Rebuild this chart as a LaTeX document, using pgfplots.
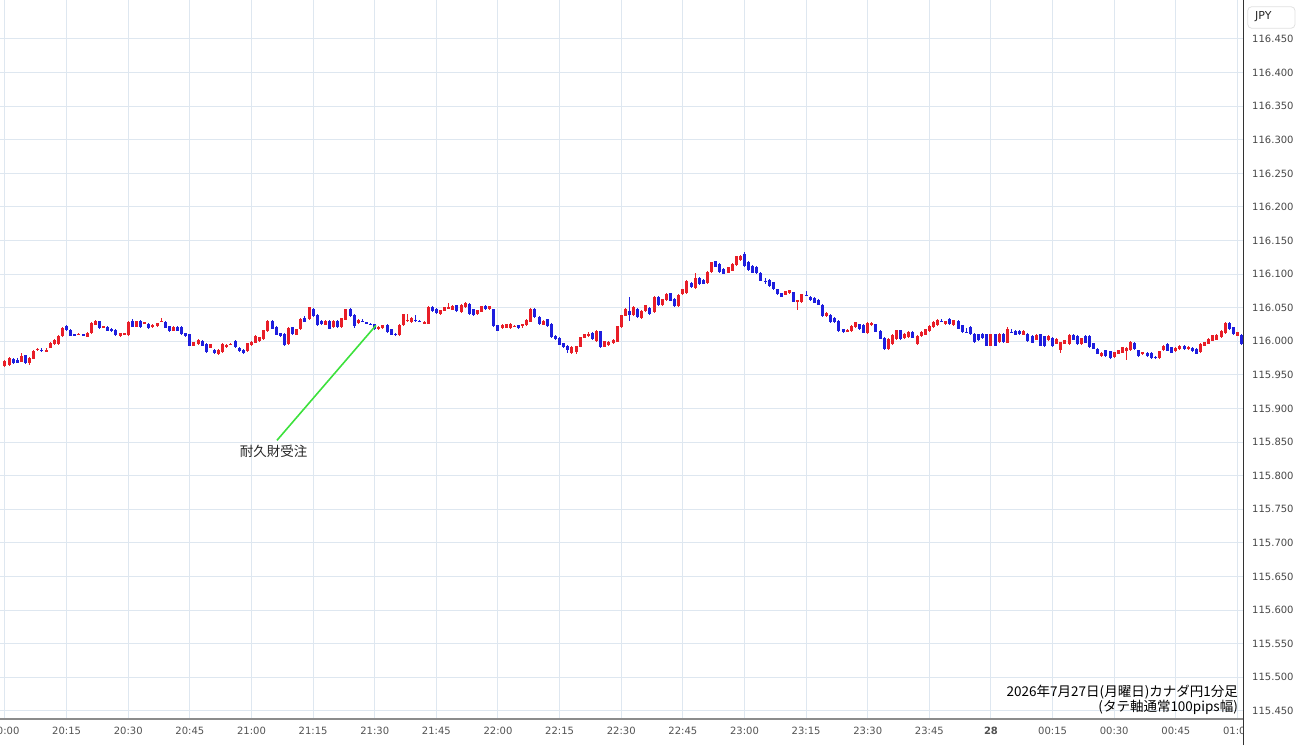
\documentclass[border=0pt]{standalone}
\usepackage{pgfplots}
\pgfplotsset{compat=1.18}
\usepackage{pgfplotstable}
\usepackage{fontspec}
\setmainfont{DejaVu Sans}
\newfontfamily\cjk{Noto Sans CJK JP}
\definecolor{upc}{RGB}{232,30,40}
\definecolor{dnc}{RGB}{30,30,222}
\definecolor{gridc}{RGB}{222,231,240}
\definecolor{annc}{RGB}{60,225,60}

% t = minutes after 20:00 ; o h l c
\pgfplotstableread{
t o h l c
0 115.964 115.972 115.962 115.971
1 115.966 115.977 115.965 115.975
4 115.971 115.982 115.970 115.980
6 115.969 115.978 115.967 115.976
7 115.975 115.988 115.974 115.987
8 115.988 115.991 115.986 115.989
10 115.985 115.990 115.984 115.988
11 115.991 115.999 115.990 115.998
12 115.996 116.003 115.995 116.002
13 115.997 116.010 115.996 116.009
14 116.009 116.023 116.008 116.022
18 116.011 116.013 116.010 116.012
20 116.007 116.014 116.006 116.013
21 116.013 116.029 116.012 116.028
22 116.025 116.032 116.024 116.031
24 116.022 116.024 116.021 116.023
28 116.009 116.014 116.008 116.013
29 116.011 116.014 116.010 116.013
30 116.010 116.031 116.009 116.030
32 116.023 116.032 116.022 116.031
34 116.028 116.030 116.027 116.029
36 116.022 116.027 116.021 116.026
37 116.024 116.029 116.023 116.028
38 116.030 116.036 116.029 116.031
41 116.016 116.023 116.015 116.022
46 115.994 116.000 115.993 115.999
47 115.996 116.003 115.995 116.002
50 115.991 115.997 115.990 115.996
52 115.981 115.989 115.980 115.988
53 115.984 115.997 115.983 115.996
54 115.992 115.997 115.991 115.996
55 115.996 115.999 115.995 115.997
59 115.986 115.999 115.985 115.998
60 115.996 116.002 115.995 116.001
61 115.999 116.010 115.998 116.009
62 116.001 116.008 116.000 116.007
63 116.004 116.018 116.003 116.017
64 116.016 116.032 116.015 116.031
69 115.996 116.022 115.995 116.021
71 116.011 116.020 116.010 116.019
72 116.019 116.035 116.018 116.034
74 116.034 116.052 116.033 116.051
78 116.025 116.032 116.024 116.031
80 116.022 116.032 116.021 116.031
82 116.022 116.036 116.021 116.035
83 116.034 116.050 116.033 116.049
86 116.027 116.033 116.026 116.032
91 116.020 116.024 116.019 116.023
92 116.021 116.026 116.020 116.025
96 116.011 116.027 116.010 116.026
97 116.025 116.042 116.024 116.041
98 116.033 116.042 116.030 116.034
99 116.029 116.037 116.028 116.036
102 116.027 116.030 116.026 116.029
103 116.027 116.053 116.026 116.052
106 116.041 116.048 116.040 116.047
107 116.046 116.052 116.045 116.051
108 116.051 116.058 116.049 116.052
109 116.049 116.056 116.048 116.055
111 116.045 116.057 116.044 116.056
112 116.051 116.059 116.050 116.058
115 116.041 116.048 116.040 116.047
116 116.044 116.053 116.043 116.052
118 116.050 116.055 116.049 116.054
121 116.020 116.026 116.019 116.025
122 116.021 116.027 116.020 116.026
123 116.021 116.028 116.020 116.027
124 116.024 116.026 116.023 116.025
126 116.024 116.027 116.021 116.026
127 116.024 116.033 116.023 116.032
128 116.030 116.050 116.029 116.049
131 116.026 116.033 116.025 116.032
138 115.984 115.993 115.981 115.992
139 115.984 115.994 115.982 115.993
140 115.992 116.007 115.991 116.006
141 116.006 116.012 116.005 116.011
142 116.009 116.014 116.006 116.010
144 116.001 116.017 116.000 116.016
146 115.992 116.001 115.991 116.000
147 115.996 116.002 115.995 116.001
148 115.998 116.004 115.997 116.003
149 116.001 116.025 116.000 116.024
150 116.022 116.040 116.021 116.039
151 116.039 116.050 116.038 116.049
153 116.039 116.052 116.038 116.051
155 116.036 116.047 116.035 116.046
156 116.045 116.055 116.044 116.054
158 116.044 116.068 116.043 116.067
160 116.054 116.064 116.053 116.063
161 116.061 116.072 116.060 116.071
164 116.054 116.072 116.053 116.071
165 116.071 116.079 116.070 116.078
166 116.073 116.092 116.072 116.091
168 116.081 116.103 116.080 116.096
171 116.087 116.104 116.086 116.103
172 116.103 116.119 116.102 116.118
176 116.103 116.112 116.102 116.111
177 116.106 116.117 116.105 116.116
178 116.113 116.127 116.112 116.126
179 116.122 116.129 116.121 116.128
190 116.071 116.077 116.070 116.076
191 116.072 116.077 116.071 116.076
193 116.059 116.062 116.046 116.061
194 116.059 116.072 116.058 116.071
200 116.039 116.045 116.038 116.044
205 116.015 116.018 116.014 116.017
206 116.016 116.025 116.015 116.024
207 116.022 116.030 116.021 116.029
210 116.014 116.030 116.013 116.029
211 116.026 116.030 116.024 116.028
215 115.989 116.005 115.988 116.004
216 115.997 116.012 115.996 116.011
217 116.004 116.018 116.003 116.017
219 116.005 116.012 116.004 116.011
220 116.007 116.016 116.006 116.015
222 115.996 116.010 115.995 116.009
223 116.009 116.017 116.008 116.016
224 116.011 116.020 116.010 116.019
225 116.016 116.025 116.015 116.024
226 116.021 116.030 116.020 116.029
227 116.024 116.033 116.023 116.032
229 116.026 116.031 116.025 116.030
231 116.025 116.033 116.024 116.032
240 115.994 116.012 115.993 116.011
242 115.999 116.012 115.998 116.011
244 115.999 116.021 115.998 116.019
248 116.010 116.017 116.009 116.016
251 116.004 116.012 116.003 116.011
254 116.002 116.010 116.001 116.009
256 115.997 116.005 115.996 116.004
257 115.987 116.000 115.984 115.999
258 115.997 116.003 115.996 116.002
259 115.997 116.012 115.996 116.011
262 115.997 116.007 115.996 116.006
267 115.979 115.985 115.978 115.984
270 115.977 115.985 115.976 115.984
271 115.982 115.988 115.981 115.987
272 115.984 115.993 115.983 115.992
273 115.987 115.993 115.974 115.992
274 115.987 116.000 115.986 115.999
277 115.981 115.985 115.980 115.984
281 115.977 115.988 115.976 115.987
282 115.987 115.995 115.986 115.994
285 115.987 115.993 115.986 115.992
286 115.989 115.995 115.988 115.994
288 115.989 115.994 115.988 115.993
291 115.984 115.998 115.983 115.997
292 115.994 116.000 115.993 115.999
293 115.997 116.005 115.996 116.004
294 116.001 116.010 116.000 116.009
295 116.004 116.012 116.003 116.011
296 116.007 116.018 116.006 116.017
297 116.014 116.030 116.013 116.029
300 116.009 116.015 116.008 116.014
}\upT

\pgfplotstableread{
t o h l c
2 115.975 115.977 115.968 115.969
3 115.973 115.975 115.968 115.969
5 115.980 115.981 115.967 115.969
9 115.988 115.990 115.985 115.987
15 116.024 116.026 116.016 116.017
16 116.018 116.019 116.008 116.009
17 116.011 116.012 116.009 116.010
19 116.011 116.012 116.009 116.010
23 116.031 116.032 116.020 116.021
25 116.023 116.024 116.016 116.017
26 116.020 116.021 116.015 116.016
27 116.017 116.018 116.008 116.009
31 116.032 116.034 116.022 116.023
33 116.031 116.032 116.021 116.022
35 116.028 116.029 116.020 116.021
39 116.030 116.031 116.020 116.021
40 116.023 116.024 116.015 116.016
42 116.023 116.024 116.016 116.017
43 116.022 116.023 116.010 116.011
44 116.013 116.014 116.008 116.009
45 116.011 116.012 115.993 115.994
48 116.001 116.002 115.993 115.994
49 115.996 115.997 115.983 115.984
51 115.988 115.989 115.982 115.983
56 116.001 116.003 115.990 115.991
57 115.991 115.992 115.985 115.986
58 115.988 115.989 115.982 115.983
65 116.031 116.032 116.018 116.019
66 116.023 116.024 116.010 116.011
67 116.013 116.014 116.008 116.009
68 116.013 116.014 115.995 115.996
70 116.021 116.022 116.010 116.011
73 116.036 116.038 116.030 116.031
75 116.049 116.050 116.037 116.038
76 116.041 116.042 116.025 116.026
77 116.031 116.032 116.025 116.026
79 116.031 116.032 116.018 116.019
81 116.031 116.032 116.021 116.022
84 116.050 116.051 116.038 116.039
85 116.039 116.040 116.020 116.024
87 116.031 116.034 116.029 116.030
88 116.029 116.030 116.027 116.028
89 116.027 116.028 116.025 116.026
90 116.026 116.027 116.018 116.019
93 116.025 116.026 116.013 116.014
94 116.019 116.020 116.010 116.011
95 116.012 116.013 116.009 116.011
100 116.033 116.039 116.030 116.032
101 116.030 116.031 116.028 116.029
104 116.052 116.053 116.044 116.045
105 116.048 116.049 116.041 116.042
110 116.054 116.055 116.044 116.045
113 116.057 116.058 116.040 116.041
114 116.048 116.049 116.038 116.039
117 116.054 116.055 116.048 116.049
119 116.049 116.050 116.023 116.024
120 116.025 116.026 116.016 116.017
125 116.025 116.026 116.020 116.021
129 116.049 116.050 116.035 116.036
130 116.037 116.038 116.025 116.026
132 116.034 116.035 116.023 116.024
133 116.026 116.027 116.005 116.006
134 116.009 116.010 116.003 116.004
135 116.006 116.007 115.995 115.996
136 115.998 115.999 115.991 115.992
137 115.994 115.995 115.983 115.987
143 116.014 116.015 116.003 116.004
145 116.016 116.017 115.991 115.992
152 116.046 116.066 116.031 116.039
154 116.049 116.050 116.035 116.036
157 116.051 116.052 116.040 116.041
159 116.066 116.067 116.053 116.054
162 116.072 116.073 116.060 116.061
163 116.065 116.066 116.053 116.054
167 116.088 116.089 116.080 116.081
169 116.095 116.096 116.085 116.086
170 116.092 116.093 116.085 116.086
173 116.120 116.121 116.111 116.112
174 116.116 116.117 116.102 116.103
175 116.108 116.109 116.100 116.101
180 116.130 116.134 116.112 116.113
181 116.118 116.119 116.105 116.106
182 116.113 116.114 116.102 116.103
183 116.111 116.112 116.101 116.102
184 116.103 116.104 116.091 116.092
185 116.091 116.096 116.087 116.090
186 116.092 116.093 116.082 116.083
187 116.088 116.089 116.077 116.078
188 116.078 116.079 116.070 116.071
189 116.073 116.074 116.067 116.068
192 116.073 116.074 116.058 116.059
195 116.071 116.076 116.069 116.070
196 116.068 116.069 116.062 116.063
197 116.066 116.067 116.058 116.059
198 116.063 116.064 116.055 116.056
199 116.056 116.057 116.038 116.039
201 116.039 116.040 116.028 116.029
202 116.036 116.037 116.028 116.029
203 116.031 116.032 116.015 116.016
204 116.019 116.020 116.014 116.015
208 116.026 116.027 116.018 116.019
209 116.026 116.027 116.013 116.014
212 116.027 116.028 116.015 116.016
213 116.016 116.017 116.003 116.004
214 116.006 116.007 115.988 115.989
218 116.017 116.018 116.003 116.004
221 116.014 116.015 116.004 116.005
228 116.031 116.034 116.029 116.030
230 116.034 116.035 116.025 116.026
232 116.031 116.032 116.018 116.019
233 116.024 116.025 116.013 116.014
234 116.016 116.021 116.014 116.015
235 116.022 116.023 116.010 116.011
236 116.011 116.012 115.998 115.999
237 116.011 116.012 116.001 116.002
238 116.012 116.013 116.005 116.006
239 116.011 116.012 115.993 115.994
241 116.011 116.012 115.993 115.994
243 116.011 116.012 115.998 115.999
245 116.016 116.018 116.014 116.015
246 116.017 116.018 116.010 116.011
247 116.016 116.017 116.010 116.011
249 116.012 116.013 116.000 116.001
250 116.009 116.010 115.998 115.999
252 116.011 116.012 115.993 115.994
253 116.009 116.010 115.993 115.994
255 116.006 116.007 115.993 115.994
260 116.011 116.012 116.003 116.004
261 116.009 116.010 115.996 115.997
263 116.009 116.010 115.998 115.999
264 116.009 116.010 115.991 115.992
265 115.997 115.998 115.988 115.989
266 115.989 115.990 115.981 115.982
268 115.988 115.989 115.978 115.979
269 115.987 115.988 115.976 115.977
275 115.999 116.000 115.988 115.989
276 115.988 115.989 115.978 115.979
278 115.984 115.985 115.978 115.979
279 115.984 115.985 115.975 115.976
280 115.977 115.979 115.975 115.976
283 115.997 115.998 115.986 115.987
284 115.992 115.993 115.983 115.984
287 115.994 115.995 115.988 115.989
289 115.992 115.993 115.986 115.987
290 115.989 115.990 115.981 115.982
298 116.029 116.030 116.018 116.019
299 116.021 116.022 116.010 116.011
301 116.011 116.012 115.996 115.997
}\dnT

\begin{document}
\begin{tikzpicture}
\useasboundingbox (0pt,0pt) rectangle (1300pt,745pt);
\begin{axis}[
  at={(0pt,26pt)}, anchor=south west,
  scale only axis, width=1243pt, height=719pt,
  xmin=-1.217, xmax=301.36,
  ymin=115.438, ymax=116.508,
  axis line style={draw=none},
  major tick length=0pt,
  tick style={draw=none},
  grid=major,
  major grid style={draw=gridc, line width=1pt},
  xtick={0,15,...,300},
  xticklabels={20:00,20:15,20:30,20:45,21:00,21:15,21:30,21:45,22:00,22:15,22:30,22:45,23:00,23:15,23:30,23:45,\textbf{28},00:15,00:30,00:45,01:00},
  ytick={115.45,115.5,115.55,115.6,115.65,115.7,115.75,115.8,115.85,115.9,115.95,116,116.05,116.1,116.15,116.2,116.25,116.3,116.35,116.4,116.45},
  yticklabel pos=right,
  x tick label style={anchor=center, inner sep=0pt, yshift=-12pt, font=\fontsize{10}{12}\selectfont, text=black!68},
  y tick label style={anchor=west, inner sep=0pt, xshift=9pt, font=\fontsize{10}{12}\selectfont, text=black!72,
    /pgf/number format/.cd, fixed, fixed zerofill, precision=3, 1000 sep={}, assume math mode=true},
  clip=true,
]
% wicks
\addplot[draw=none, mark=none, forget plot,
  error bars/.cd, y dir=both, y explicit, error mark=none,
  error bar style={draw=upc, line width=1pt}]
  table[x=t, y expr={(\thisrow{h}+\thisrow{l})/2}, y error expr={(\thisrow{h}-\thisrow{l})/2}] {\upT};
\addplot[draw=none, mark=none, forget plot,
  error bars/.cd, y dir=both, y explicit, error mark=none,
  error bar style={draw=dnc, line width=1pt}]
  table[x=t, y expr={(\thisrow{h}+\thisrow{l})/2}, y error expr={(\thisrow{h}-\thisrow{l})/2}] {\dnT};
% bodies
\addplot[draw=none, mark=none, forget plot,
  error bars/.cd, y dir=both, y explicit, error mark=none,
  error bar style={draw=upc, line width=3pt}]
  table[x=t, y expr={(\thisrow{o}+\thisrow{c})/2}, y error expr={(\thisrow{c}-\thisrow{o})/2}] {\upT};
\addplot[draw=none, mark=none, forget plot,
  error bars/.cd, y dir=both, y explicit, error mark=none,
  error bar style={draw=dnc, line width=3pt}]
  table[x=t, y expr={(\thisrow{o}+\thisrow{c})/2}, y error expr={(\thisrow{o}-\thisrow{c})/2}] {\dnT};
% annotation
\draw[annc, line width=1.6pt] (axis cs:90.3,116.0238) -- (axis cs:66.2,115.8527);
\node[font=\cjk\fontsize{13.5}{16}\selectfont, text=black!85, inner sep=0pt] at (axis cs:65.4,115.8356) {耐久財受注};
\end{axis}
\fill[white] (1243.5pt,0pt) rectangle (1300pt,25pt);
\draw[black!45, line width=2pt] (0pt,26pt) -- (1243pt,26pt);
\draw[black!80, line width=1pt] (1243pt,0pt) -- (1243pt,745pt);
\draw[black!12, line width=0.8pt, rounded corners=4pt] (1247.7pt,716.7pt) rectangle (1295pt,738.3pt);
\node[anchor=west, inner sep=0pt, font=\fontsize{11}{13}\selectfont, text=black!85] at (1255pt,728pt) {JPY};
\node[anchor=east, inner sep=0pt, font=\cjk\fontsize{13.5}{16}\selectfont] at (1238pt,52.5pt) {2026年7月27日(月曜日)カナダ円1分足};
\node[anchor=east, inner sep=0pt, font=\cjk\fontsize{13.5}{16}\selectfont] at (1238pt,37.5pt) {(タテ軸通常100pips幅)};
\end{tikzpicture}
\end{document}
